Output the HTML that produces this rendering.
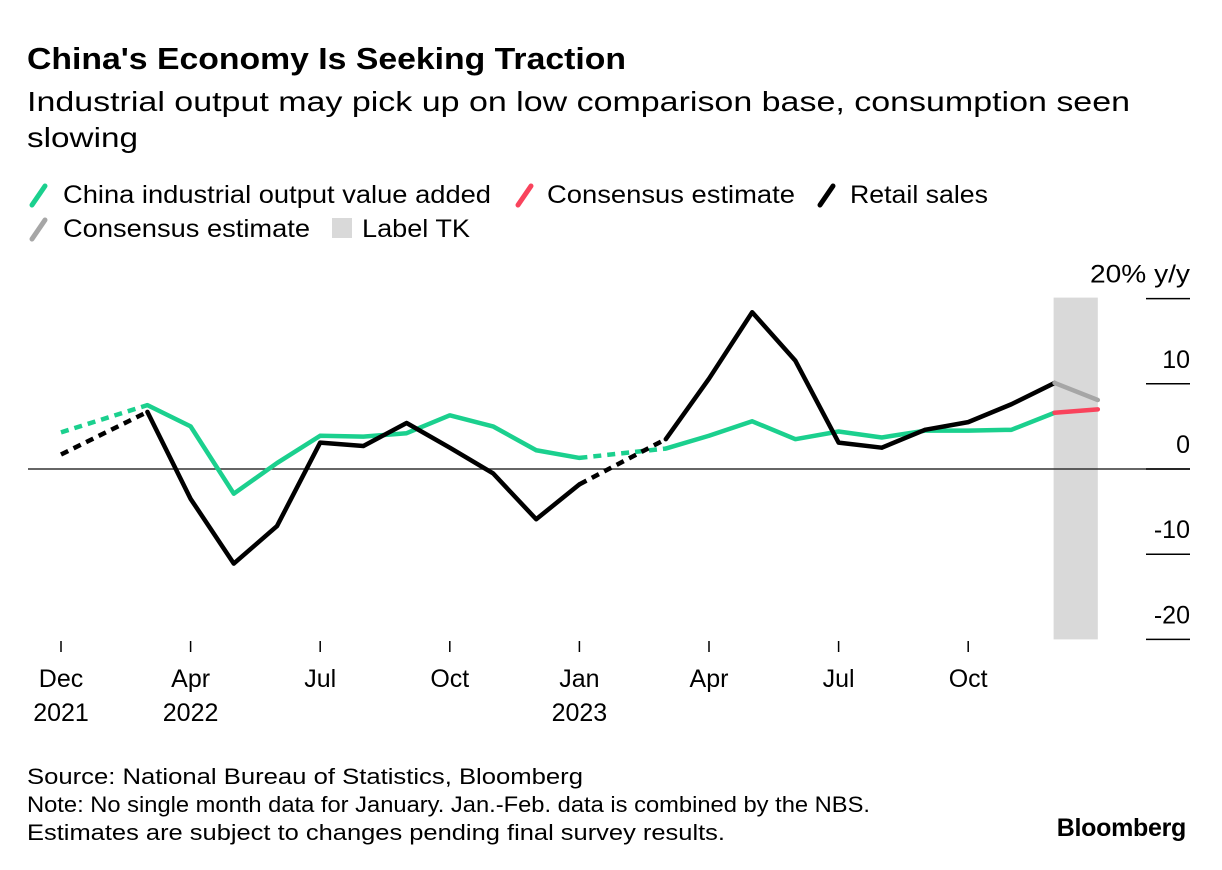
<!DOCTYPE html>
<html><head><meta charset="utf-8"><style>
body{margin:0;background:#fff;font-family:"Liberation Sans",Arial,sans-serif;color:#000;}
.wrap{position:relative;width:1222px;height:870px;overflow:hidden;}
</style></head><body>
<div class="wrap">
<svg width="1222" height="870" xmlns="http://www.w3.org/2000/svg" font-family="Liberation Sans, Arial, sans-serif">
<text x="27" y="69" font-size="31" font-weight="bold" textLength="599" lengthAdjust="spacingAndGlyphs">China's Economy Is Seeking Traction</text>
<text x="27" y="111" font-size="28" textLength="1103" lengthAdjust="spacingAndGlyphs">Industrial output may pick up on low comparison base, consumption seen</text>
<text x="27" y="147" font-size="28" textLength="111" lengthAdjust="spacingAndGlyphs">slowing</text>
<g font-size="25">
 <g><line x1="32" y1="205" x2="45" y2="186" stroke="#1bd08e" stroke-width="5" stroke-linecap="round"/><text x="63" y="203" textLength="428" lengthAdjust="spacingAndGlyphs">China industrial output value added</text></g>
 <g><line x1="518" y1="205" x2="531" y2="186" stroke="#f9435c" stroke-width="5" stroke-linecap="round"/><text x="547" y="203" textLength="248" lengthAdjust="spacingAndGlyphs">Consensus estimate</text></g>
 <g><line x1="820" y1="205" x2="833" y2="186" stroke="#000" stroke-width="5" stroke-linecap="round"/><text x="850" y="203" textLength="138" lengthAdjust="spacingAndGlyphs">Retail sales</text></g>
 <g><line x1="32" y1="239" x2="45" y2="220" stroke="#a6a6a6" stroke-width="5" stroke-linecap="round"/><text x="63" y="237" textLength="247" lengthAdjust="spacingAndGlyphs">Consensus estimate</text></g>
 <g><rect x="332" y="218" width="20" height="20" fill="#d9d9d9"/><text x="362" y="237" textLength="108" lengthAdjust="spacingAndGlyphs">Label TK</text></g>
</g>
<g id="plot"></g>
<text x="27" y="784" font-size="22" textLength="556" lengthAdjust="spacingAndGlyphs">Source: National Bureau of Statistics, Bloomberg</text>
<text x="27" y="812" font-size="22" textLength="843" lengthAdjust="spacingAndGlyphs">Note: No single month data for January. Jan.-Feb. data is combined by the NBS.</text>
<text x="27" y="840" font-size="22" textLength="698" lengthAdjust="spacingAndGlyphs">Estimates are subject to changes pending final survey results.</text>
<text x="1186" y="836" font-size="25" font-weight="bold" text-anchor="end" letter-spacing="-0.3">Bloomberg</text>
</svg>
</div>
<script>
const industrialIdx = [0,2,3,4,5,6,7,8,9,10,11,12,14,15,16,17,18,19,20,21,22,23];
const industrialVals = [4.3,7.5,5.0,-2.9,0.7,3.9,3.8,4.2,6.3,5.0,2.2,1.3,2.4,3.9,5.6,3.5,4.4,3.7,4.5,4.5,4.6,6.6];
const retailIdx = [0,2,3,4,5,6,7,8,9,10,11,12,14,15,16,17,18,19,20,21,22,23];
const retailVals = [1.7,6.7,-3.5,-11.1,-6.7,3.1,2.7,5.4,2.5,-0.5,-5.9,-1.8,3.5,10.6,18.4,12.7,3.1,2.5,4.6,5.5,7.6,10.1];
const industrialEst = [6.6,7.0];
const retailEst = [10.1,8.1];
const estIdx = [23,24];
const yTicks = [20,10,0,-10,-20];
const xTickIdx = [0,3,6,9,12,15,18,21];
const xTickLabels = [["Dec","2021"],["Apr","2022"],["Jul",""],["Oct",""],["Jan","2023"],["Apr",""],["Jul",""],["Oct",""]];
const shadeIdx = [23,24];

const NS="http://www.w3.org/2000/svg";
const g=document.getElementById('plot');
const x=i=>61+i*43.2;
const y=v=>469-v*8.52;
function mk(t,a){const e=document.createElementNS(NS,t);for(const k in a)e.setAttribute(k,a[k]);g.appendChild(e);return e;}
let r=mk('rect',{x:x(shadeIdx[0])-1,y:y(20)-1,width:x(shadeIdx[1])-x(shadeIdx[0])+1,height:y(-20)-y(20)+1,fill:'#d9d9d9'});


let z=mk('line',{x1:28,x2:1190,y1:y(0),y2:y(0),stroke:'#333','stroke-width':1.5});


yTicks.forEach(v=>{
 let l=mk('line',{x1:1146,x2:1190,y1:y(v),y2:y(v),stroke:'#000','stroke-width':1.5});
 
 
 let t=mk('text',{x:1190,y:y(v)-16,'font-size':25,'text-anchor':'end'});
 t.textContent=v===20?'20% y/y':String(v);
 if(v===20){t.setAttribute('textLength','100');t.setAttribute('lengthAdjust','spacingAndGlyphs');}
 
 
});
xTickIdx.forEach((i,k)=>{
 let l=mk('line',{x1:x(i),x2:x(i),y1:641,y2:652,stroke:'#000','stroke-width':1.5});
 
 
 xTickLabels[k].forEach((s,j)=>{ if(!s)return;
  let t=mk('text',{x:x(i),y:687+j*34,'font-size':25,'text-anchor':'middle'});
  t.textContent=s;
  
  
 });
});
function series(idx,vals,color,name){
 const segs=[];
 for(let k=0;k<idx.length-1;k++){
  const gap=idx[k+1]-idx[k]>1;
  segs.push({d:`M${x(idx[k])},${y(vals[k])}L${x(idx[k+1])},${y(vals[k+1])}`,dash:gap});
 }
 let solid='',dashed='';
 segs.forEach(s=>{if(s.dash)dashed+=s.d;else solid+=s.d;});
 let p=mk('path',{d:solid,fill:'none',stroke:color,'stroke-width':4.5,'stroke-linejoin':'round','stroke-linecap':'round'});
 
 
 let q=mk('path',{d:dashed,fill:'none',stroke:color,'stroke-width':4.5,'stroke-dasharray':'8 6'});
 
 
}
function est(vals,color,name){
 let p=mk('path',{d:`M${x(estIdx[0])},${y(vals[0])}L${x(estIdx[1])},${y(vals[1])}`,fill:'none',stroke:color,'stroke-width':4.5,'stroke-linecap':'round'});
 
 
}
series(industrialIdx,industrialVals,'#1bd08e','industrial-output');
series(retailIdx,retailVals,'#000','retail-sales');
est(industrialEst,'#f9435c','industrial-consensus-estimate');
est(retailEst,'#a6a6a6','retail-consensus-estimate');
</script>
</body></html>
